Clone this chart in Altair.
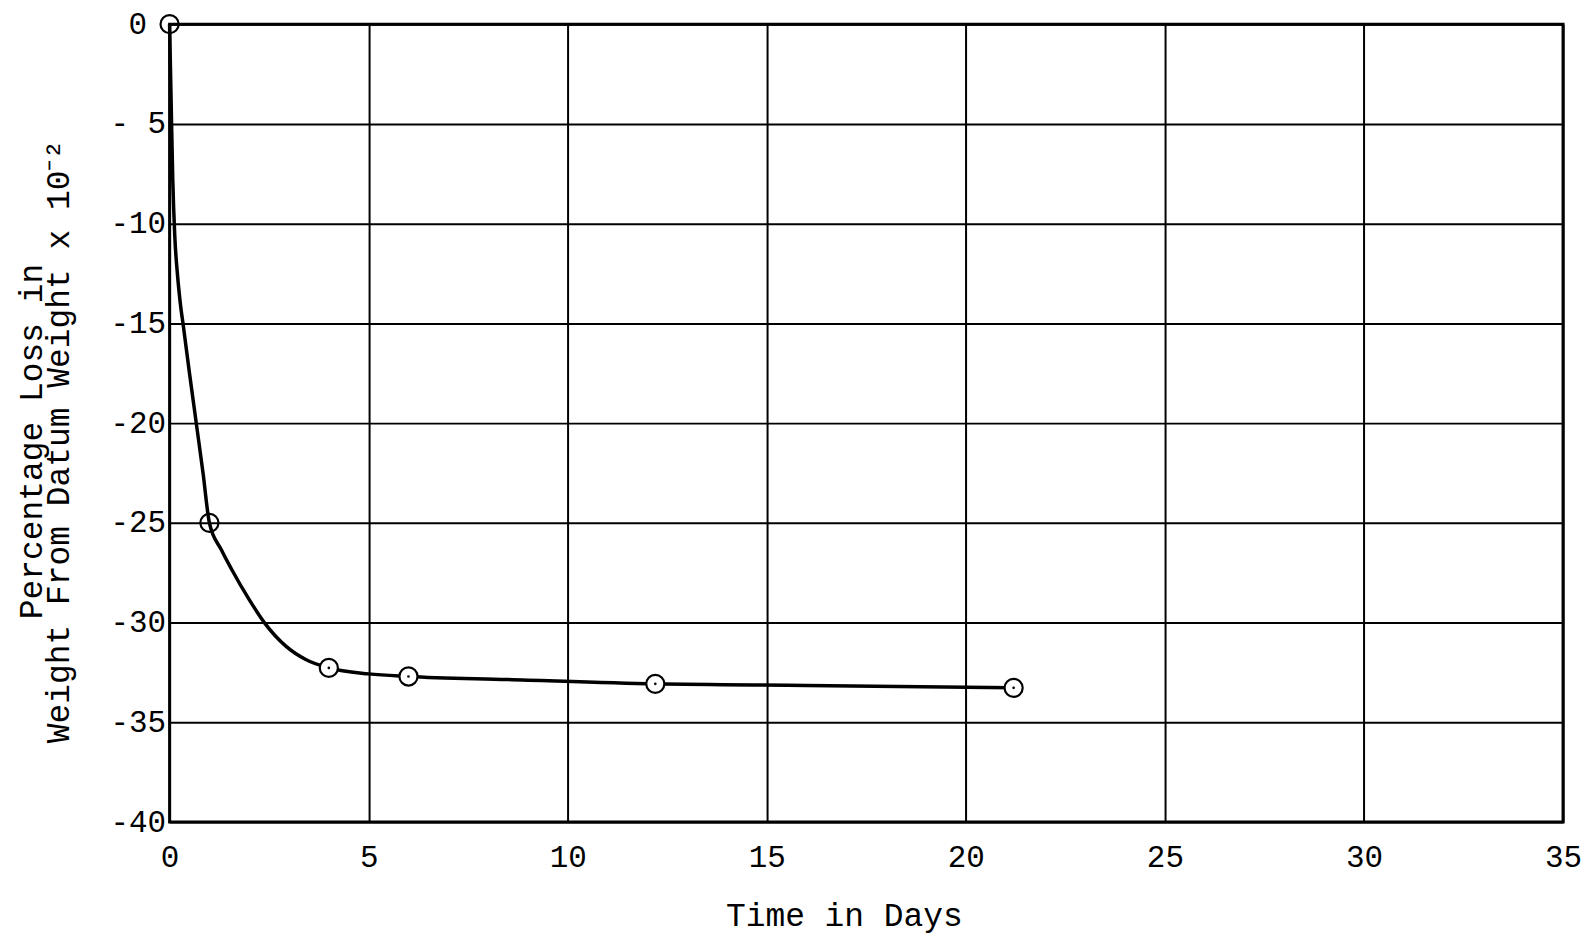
import altair as alt
import pandas as pd

# measured data points (days, % loss x 10^-2)
days = [0, 1, 4, 6, 12.2, 21.2]
loss = [0, -25, -32.27, -32.7, -33.07, -33.27]

# hand-drawn fitted curve
curve_days = [0, 0.04, 0.08, 0.13, 0.2, 0.27, 0.35, 0.5, 0.67, 0.84, 1.0, 1.3, 1.55,
              2.0, 2.38, 2.92, 3.42, 4.0, 5.0, 6.0, 8.5, 12.2, 16, 21.2]
curve_loss = [0, -4, -7.8, -10.6, -12.6, -14.0, -15.2, -17.5, -20, -22.5, -25, -26.35, -27.3,
              -28.85, -30, -31.18, -31.85, -32.27, -32.57, -32.7, -32.85, -33.07, -33.15, -33.27]

x_ticks = [0, 5, 10, 15, 20, 25, 30, 35]
y_ticks = [0, -5, -10, -15, -20, -25, -30, -35, -40]
y_tick_labels = ["0", "-\u00a05", "-10", "-15", "-20", "-25", "-30", "-35", "-40"]

pts = pd.DataFrame({"day": days, "loss": loss})
curve = pd.DataFrame({"day": curve_days, "loss": curve_loss})

label_expr = ""
for v, lab in zip(y_ticks, y_tick_labels):
    label_expr += f"datum.value == {v} ? '{lab}' : "
label_expr += "''"

TITLE_FONT = "Liberation Mono"
TICK_FONT = "Liberation Mono"

x_enc = alt.X(
    "day:Q",
    scale=alt.Scale(domain=[0, 35], nice=False, zero=False),
    axis=alt.Axis(
        values=x_ticks, grid=True, gridColor="black", gridWidth=2, gridOpacity=1,
        domain=False, ticks=False, labelFont=TICK_FONT, labelFontSize=31,
        labelColor="black", labelPadding=21, labelFlush=False,
        title="Time in Days", titleFont=TITLE_FONT, titleFontSize=33,
        titleFontWeight="normal", titleColor="black", titleX=676, titleY=104,
        titleBaseline="alphabetic",
    ),
)
y_enc = alt.Y(
    "loss:Q",
    scale=alt.Scale(domain=[-40, 0], nice=False, zero=False),
    axis=alt.Axis(
        values=y_ticks, grid=True, gridColor="black", gridWidth=2, gridOpacity=1,
        domain=False, ticks=False, labelFont=TICK_FONT, labelFontSize=31,
        labelColor="black",
        labelPadding={"condition": {"test": "datum.value == 0", "value": 23}, "value": 4},
        labelBaseline="middle",
        labelExpr=label_expr,
        title=["Percentage Loss in", "Weight From Datum Weight x 10\u207b\u00b2"],
        titleFont=TITLE_FONT, titleFontSize=33, titleFontWeight="normal",
        titleColor="black", titleX=-121, titleY=418, titleLineHeight=27,
        titleAngle=270, titleBaseline="bottom", titleAlign="center",
    ),
)

line = alt.Chart(curve).mark_line(
    color="black", strokeWidth=3.5, interpolate="monotone"
).encode(x=x_enc, y=y_enc)

open_circles = alt.Chart(pts).transform_filter(alt.datum.day < 3).mark_point(
    shape="circle", size=330, filled=False, color="black", strokeWidth=2.2, opacity=1
).encode(x="day:Q", y="loss:Q")

filled_circles = alt.Chart(pts).transform_filter(alt.datum.day >= 3).mark_point(
    shape="circle", size=330, filled=True, fill="white", stroke="black",
    strokeWidth=2.2, opacity=1, fillOpacity=1
).encode(x="day:Q", y="loss:Q")

dots = alt.Chart(pts).transform_filter(alt.datum.day >= 3).mark_point(
    shape="circle", size=7, filled=True, color="black", opacity=1
).encode(x="day:Q", y="loss:Q")

chart = alt.layer(line, open_circles, filled_circles, dots).properties(
    width=1397, height=800,
    autosize=alt.AutoSizeParams(type="none"),
    padding={"left": 162, "top": 15, "right": 18, "bottom": 114},
    background="white",
).configure_view(stroke="black", strokeWidth=3)

chart.save("out.html", embed_options={"renderer": "svg", "actions": False})
